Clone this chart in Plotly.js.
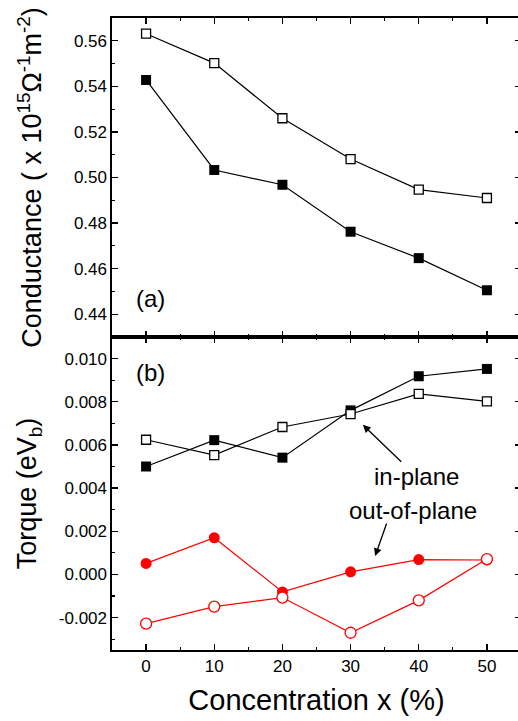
<!DOCTYPE html>
<html>
<head>
<meta charset="utf-8">
<script src="https://cdn.plot.ly/plotly-3.0.1.min.js"></script>
<style>html,body{margin:0;padding:0;overflow:hidden;background:#fff;}</style>
</head>
<body>
<div id="chart"></div>
<script>
// Concentration x (%)
var concentration = [0, 10, 20, 30, 40, 50];

// (a) Conductance (x 10^15 Ohm^-1 m^-2)
var conductanceOpen   = [0.5631, 0.5502, 0.5260, 0.5081, 0.4947, 0.4910];
var conductanceFilled = [0.5428, 0.5033, 0.4968, 0.4762, 0.4646, 0.4505];

// (b) Torque (eV_b)
var torqueInPlaneFilled  = [0.00500, 0.00622, 0.00541, 0.00760, 0.00918, 0.00952];
var torqueInPlaneOpen    = [0.00624, 0.00553, 0.00683, 0.00743, 0.00836, 0.00802];
var torqueOutPlaneFilled = [0.00051, 0.00170, -0.00081, 0.00012, 0.00069, 0.00067];
var torqueOutPlaneOpen   = [-0.00228, -0.00149, -0.00107, -0.00270, -0.00120, 0.00071];

// tick labels
var xTickVals = [0, 10, 20, 30, 40, 50];
var xTickText = ["0", "10", "20", "30", "40", "50"];
var condTickVals = [0.44, 0.46, 0.48, 0.50, 0.52, 0.54, 0.56];
var condTickText = ["0.44", "0.46", "0.48", "0.50", "0.52", "0.54", "0.56"];
var torqueTickVals = [-0.002, 0.000, 0.002, 0.004, 0.006, 0.008, 0.010];
var torqueTickText = ["-0.002", "0.000", "0.002", "0.004", "0.006", "0.008", "0.010"];

var FONT = "Arial, 'Liberation Sans', Helvetica, sans-serif";
var BLACK = "#000000";
var RED = "#ff0000";

var traces = [
  { x: concentration, y: conductanceOpen, xaxis: "x2", yaxis: "y2", mode: "lines+markers",
    line: {color: BLACK, width: 1.2},
    marker: {symbol: "square", size: 9, color: "#ffffff", line: {width: 1.3, color: BLACK}} },
  { x: concentration, y: conductanceFilled, xaxis: "x2", yaxis: "y2", mode: "lines+markers",
    line: {color: BLACK, width: 1.2},
    marker: {symbol: "square", size: 10, color: BLACK} },
  { x: concentration, y: torqueInPlaneFilled, xaxis: "x", yaxis: "y", mode: "lines+markers",
    line: {color: BLACK, width: 1.2},
    marker: {symbol: "square", size: 10, color: BLACK} },
  { x: concentration, y: torqueInPlaneOpen, xaxis: "x", yaxis: "y", mode: "lines+markers",
    line: {color: BLACK, width: 1.2},
    marker: {symbol: "square", size: 9, color: "#ffffff", line: {width: 1.3, color: BLACK}} },
  { x: concentration, y: torqueOutPlaneFilled, xaxis: "x", yaxis: "y", mode: "lines+markers",
    line: {color: RED, width: 1.2},
    marker: {symbol: "circle", size: 11, color: RED} },
  { x: concentration, y: torqueOutPlaneOpen, xaxis: "x", yaxis: "y", mode: "lines+markers",
    line: {color: RED, width: 1.2},
    marker: {symbol: "circle", size: 11, color: "#ffffff", line: {width: 1.3, color: RED}} }
];

var axisCommon = {
  showline: true, linecolor: BLACK, linewidth: 1.6, mirror: "allticks",
  ticks: "inside", ticklen: 6, tickwidth: 1.3, tickcolor: BLACK,
  showgrid: false, zeroline: false,
  tickfont: {family: FONT, size: 17, color: BLACK}
};

function ax(extra) { return Object.assign({}, axisCommon, extra); }

var layout = {
  width: 525, height: 721,
  margin: {l: 112, r: 4, t: 18, b: 71},
  paper_bgcolor: "#ffffff", plot_bgcolor: "#ffffff",
  showlegend: false,
  font: {family: FONT, color: BLACK},
  xaxis: ax({
    domain: [0, 1], anchor: "y", range: [-5, 55],
    tickvals: xTickVals, ticktext: xTickText,
    minor: {dtick: 5, tick0: 0, ticks: "inside", ticklen: 3, tickwidth: 1.1, tickcolor: BLACK},
    title: {text: "Concentration x (%)", font: {family: FONT, size: 29, color: BLACK}, standoff: 14}
  }),
  yaxis: ax({
    domain: [0, 0.4953], anchor: "x", range: [-0.0035, 0.011],
    tickvals: torqueTickVals, ticktext: torqueTickText,
    minor: {dtick: 0.001, tick0: 0, ticks: "inside", ticklen: 3, tickwidth: 1.1, tickcolor: BLACK},
    title: {text: "Torque (eV<sub>b</sub>)", font: {family: FONT, size: 27, color: BLACK}, standoff: 14}
  }),
  xaxis2: ax({
    domain: [0, 1], anchor: "y2", matches: "x", range: [-5, 55],
    tickvals: xTickVals, showticklabels: false,
    minor: {dtick: 5, tick0: 0, ticks: "inside", ticklen: 3, tickwidth: 1.1, tickcolor: BLACK}
  }),
  yaxis2: ax({
    domain: [0.4953, 1], anchor: "x2", range: [0.43, 0.57],
    tickvals: condTickVals, ticktext: condTickText,
    minor: {dtick: 0.01, tick0: 0, ticks: "inside", ticklen: 3, tickwidth: 1.1, tickcolor: BLACK},
    title: {text: "Conductance ( x 10<sup>15</sup>Ω<sup>-1</sup>m<sup>-2</sup>)", font: {family: FONT, size: 27, color: BLACK}, standoff: 24}
  }),
  annotations: [
    {xref: "x2 domain", yref: "y2 domain", x: 0.093, y: 0.122, text: "(a)", showarrow: false,
     font: {family: FONT, size: 24, color: BLACK}, xanchor: "center", yanchor: "middle"},
    {xref: "x domain", yref: "y domain", x: 0.093, y: 0.885, text: "(b)", showarrow: false,
     font: {family: FONT, size: 24, color: BLACK}, xanchor: "center", yanchor: "middle"},
    {xref: "x", yref: "y", x: 31.8, y: 0.00693, text: "in-plane", showarrow: true,
     ax: 54, ay: 52, arrowhead: 2, arrowsize: 1.2, arrowwidth: 1.3, arrowcolor: BLACK,
     font: {family: FONT, size: 24, color: BLACK}},
    {xref: "x", yref: "y", x: 39.15, y: 0.00298, text: "out-of-plane", showarrow: false,
     font: {family: FONT, size: 24, color: BLACK}, xanchor: "center", yanchor: "middle"},
    {xref: "x", yref: "y", x: 33.6, y: 0.00085, text: "", showarrow: true,
     ax: 12, ay: -34, arrowhead: 2, arrowsize: 1.2, arrowwidth: 1.3, arrowcolor: BLACK}
  ]
};

Plotly.newPlot("chart", traces, layout, {displayModeBar: false, staticPlot: true});
</script>
</body>
</html>
